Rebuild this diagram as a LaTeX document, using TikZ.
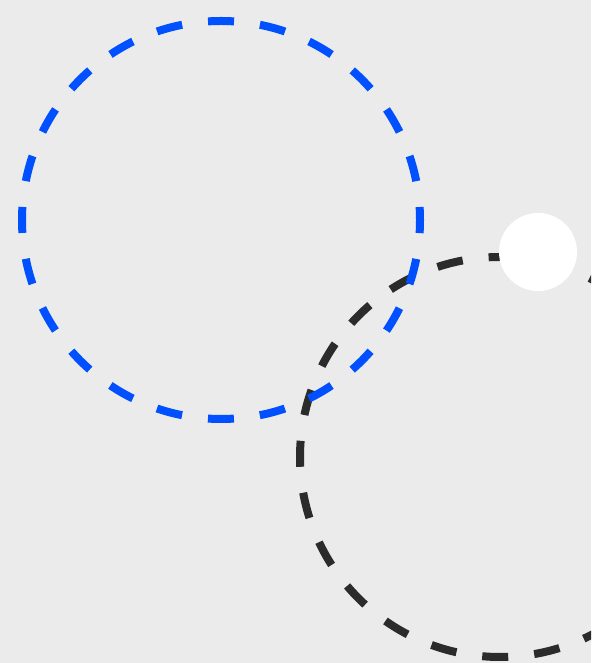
\documentclass[tikz,border=0pt]{standalone}
\usepackage{xcolor}
\usepackage{tikz}
\definecolor{ringBlue}{HTML}{0050FF}
\definecolor{ringDark}{HTML}{2B2B2B}
\definecolor{paperGray}{HTML}{EBEBEB}
\tikzset{
  ring/.style={
    draw=#1, line width=8pt,
    dash pattern=on 26pt off 26.1pt, dash phase=13pt
  },
  dot/.style={fill=white, draw=none}
}

\begin{document}
\begin{tikzpicture}[x=1pt, y=1pt]

\fill[paperGray] (0,0) rectangle (591,663);
\useasboundingbox (0,0) rectangle (591,663);

\begin{scope}
\clip (0,0) rectangle (591,663);
\draw[ring=ringDark] (500,206) circle[radius=200];
\fill[dot] (538,411) circle[radius=39];
\draw[ring=ringBlue] (221,443) circle[radius=199];
\end{scope}

\end{tikzpicture}
\end{document}
